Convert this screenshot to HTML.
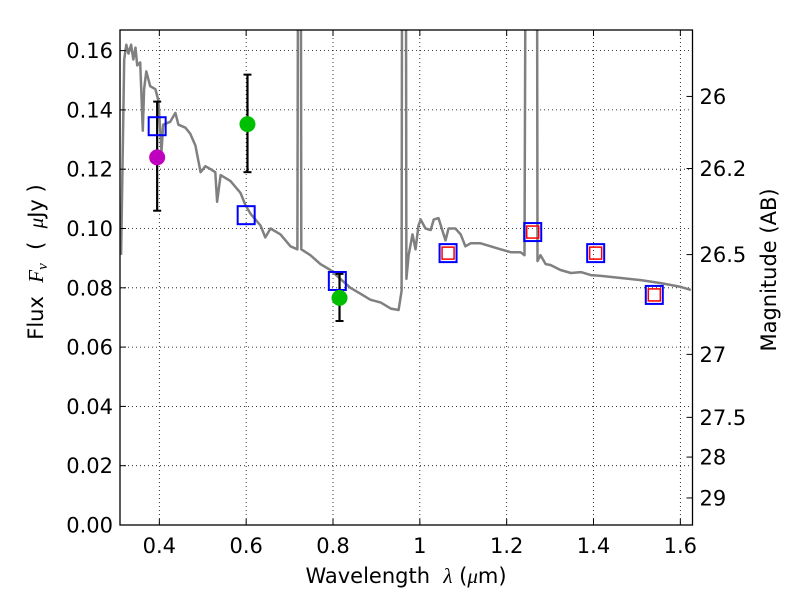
<!DOCTYPE html>
<html><head><meta charset="utf-8">
<style>
html,body{margin:0;padding:0;background:#fff;}
svg{display:block;font-family:"DejaVu Sans","Liberation Sans",sans-serif;}
</style></head>
<body>
<svg id="chart" width="800" height="600" viewBox="0 0 800 600" xml:space="preserve">
<defs><clipPath id="plotclip"><rect x="120" y="30" width="572.5" height="495"/></clipPath></defs>
<rect x="0" y="0" width="800" height="600" fill="#fff"/>
<g id="grid"></g>
<g id="spec" clip-path="url(#plotclip)"></g>
<g id="marks"></g>
<rect x="120" y="30" width="572.5" height="495" fill="none" stroke="#000" stroke-width="1.3"/>
<g id="axes"></g>
<text x="406" y="583" font-size="21" text-anchor="middle">Wavelength&#160;&#160;<tspan font-family="Liberation Serif" font-style="italic">λ</tspan> (<tspan font-family="Liberation Serif" font-style="italic">μ</tspan>m)</text>
<text transform="translate(43,262) rotate(-90)" font-size="21" text-anchor="middle">Flux&#160;&#160;<tspan font-family="Liberation Serif" font-style="italic">F<tspan font-size="15" dy="4">ν</tspan></tspan><tspan dy="-4">&#160;&#160;(&#160;&#160;</tspan><tspan font-family="Liberation Serif" font-style="italic">μ</tspan>Jy )</text>
<text transform="translate(776,270) rotate(-90)" font-size="21" text-anchor="middle">Magnitude (AB)</text>
</svg>
<script>
const xTicks=[0.4,0.6,0.8,1.0,1.2,1.4,1.6];
const xTickLabels=["0.4","0.6","0.8","1","1.2","1.4","1.6"];
const yTicks=[0,0.02,0.04,0.06,0.08,0.10,0.12,0.14,0.16];
const yTickLabels=["0.00","0.02","0.04","0.06","0.08","0.10","0.12","0.14","0.16"];
const magTicks=[26,26.2,26.5,27,27.5,28,29];
const magTickLabels=["26","26.2","26.5","27","27.5","28","29"];
const specWave=[0.312,0.319,0.324,0.329,0.335,0.340,0.345,0.349,0.356,0.362,0.365,0.370,0.379,0.391,0.398,0.405,0.409,0.425,0.437,0.444,0.460,0.471,0.483,0.495,0.506,0.518,0.529,0.533,0.541,0.564,0.587,0.598,0.610,0.633,0.644,0.656,0.679,0.702,0.718,0.721,0.725,0.727,0.748,0.771,0.794,0.817,0.840,0.863,0.886,0.910,0.933,0.951,0.958,0.960,0.967,0.969,0.974,0.983,0.990,0.997,1.002,1.013,1.025,1.032,1.043,1.059,1.066,1.082,1.094,1.105,1.117,1.140,1.163,1.186,1.209,1.232,1.241,1.246,1.269,1.271,1.278,1.290,1.301,1.324,1.348,1.371,1.394,1.417,1.463,1.509,1.555,1.601,1.624];
const specFlux=[0.0911,0.157,0.162,0.159,0.162,0.157,0.161,0.155,0.156,0.133,0.147,0.153,0.148,0.147,0.143,0.126,0.135,0.136,0.139,0.135,0.134,0.132,0.128,0.119,0.121,0.120,0.119,0.109,0.118,0.116,0.112,0.108,0.105,0.101,0.097,0.100,0.098,0.094,0.093,0.3,0.3,0.093,0.091,0.088,0.086,0.083,0.080,0.078,0.076,0.075,0.073,0.0725,0.079,0.3,0.3,0.083,0.091,0.098,0.093,0.101,0.103,0.100,0.0995,0.103,0.1035,0.096,0.100,0.100,0.098,0.094,0.095,0.095,0.094,0.093,0.092,0.092,0.091,0.3,0.3,0.089,0.091,0.088,0.0877,0.086,0.085,0.0853,0.0843,0.084,0.0833,0.0826,0.0816,0.0803,0.0793];
const obsWave=[0.395,0.603,0.815];
const obsFlux=[0.124,0.1352,0.0766];
const obsLow=[0.106,0.119,0.0688];
const obsHigh=[0.1428,0.1519,0.0847];
const obsColor=["#bf00bf","#00bf00","#00bf00"];
const modelWave=[0.395,0.600,0.810,1.065,1.260,1.405,1.540];
const modelFlux=[0.1345,0.1045,0.0823,0.0917,0.0988,0.0917,0.0776];
const nirWave=[1.065,1.260,1.405,1.540];
const nirFlux=[0.0917,0.0988,0.0917,0.0776];

const NS="http://www.w3.org/2000/svg";
const X0=120,X1=692.5,Y0=525,Ytop=30;
const xmin=0.3094,xmax=1.628,ymin=0,ymax=0.16695;
function xs(v){return X0+(v-xmin)/(xmax-xmin)*(X1-X0);}
function ys(v){return Y0-(v-ymin)/(ymax-ymin)*(Y0-Ytop);}
function mk(tag,parent,attrs){const e=document.createElementNS(NS,tag);for(const k in attrs)e.setAttribute(k,attrs[k]);parent.appendChild(e);return e;}
const grid=document.getElementById('grid'),axes=document.getElementById('axes'),spec=document.getElementById('spec'),marks=document.getElementById('marks');

xTicks.forEach((t,i)=>{
  const x=xs(t);
  const g=mk('line',grid,{x1:x,x2:x,y1:Ytop,y2:Y0,stroke:'#000','stroke-width':0.8,'stroke-dasharray':'1,3'});
  
  
  const tk=mk('line',axes,{x1:x,x2:x,y1:Y0,y2:Y0-6,stroke:'#000','stroke-width':1});
  
  
  const tk2=mk('line',axes,{x1:x,x2:x,y1:Ytop,y2:Ytop+6,stroke:'#000','stroke-width':1});
  
  
  const lb=mk('text',axes,{x:x,y:Y0+28,'font-size':21,'text-anchor':'middle'});
  lb.textContent=xTickLabels[i];
  
  
});
yTicks.forEach((t,i)=>{
  const y=ys(t);
  const g=mk('line',grid,{x1:X0,x2:X1,y1:y,y2:y,stroke:'#000','stroke-width':0.8,'stroke-dasharray':'1,3'});
  
  
  const tk=mk('line',axes,{x1:X0,x2:X0+6,y1:y,y2:y,stroke:'#000','stroke-width':1});
  
  
  const lb=mk('text',axes,{x:X0-7,y:y+7.5,'font-size':21,'text-anchor':'end'});
  lb.textContent=yTickLabels[i];
  
  
});
magTicks.forEach((m,i)=>{
  const f=Math.pow(10,(23.9-m)/2.5);
  const y=ys(f);
  const tk=mk('line',axes,{x1:X1-6,x2:X1,y1:y,y2:y,stroke:'#000','stroke-width':1});
  
  
  const lb=mk('text',axes,{x:X1+7,y:y+7.5,'font-size':21,'text-anchor':'start'});
  lb.textContent=magTickLabels[i];
  
  
});

const pts=specWave.map((w,i)=>xs(w).toFixed(1)+','+ys(specFlux[i]).toFixed(1)).join(' ');
const pl=mk('polyline',spec,{points:pts,fill:'none',stroke:'#808080','stroke-width':2.5,'stroke-linejoin':'round'});



obsWave.forEach((w,i)=>{
  const x=xs(w);
  const e=mk('line',marks,{x1:x,x2:x,y1:ys(obsLow[i]),y2:ys(obsHigh[i]),stroke:'#000','stroke-width':2.2});
  
  
  [obsLow[i],obsHigh[i]].forEach(v=>{
    const c=mk('line',marks,{x1:x-4,x2:x+4,y1:ys(v),y2:ys(v),stroke:'#000','stroke-width':2});
    
    
  });
});
modelWave.forEach((w,i)=>{
  const r=mk('rect',marks,{x:xs(w)-8.5,y:ys(modelFlux[i])-9,width:17,height:18,fill:'none',stroke:'#0000ff','stroke-width':2});
  
  
});
nirWave.forEach((w,i)=>{
  const r=mk('rect',marks,{x:xs(w)-6,y:ys(nirFlux[i])-6,width:12,height:12,fill:'none',stroke:'#ff0000','stroke-width':1.5});
  
  
});
obsWave.forEach((w,i)=>{
  const c=mk('circle',marks,{cx:xs(w),cy:ys(obsFlux[i]),r:8,fill:obsColor[i]});
  
  
});
</script>
</body></html>
